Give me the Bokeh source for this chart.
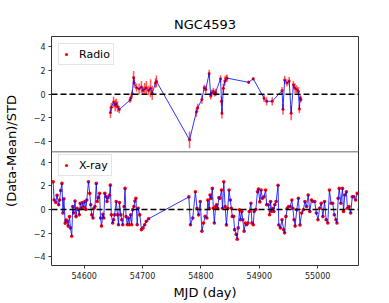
from bokeh.plotting import figure
from bokeh.models import (Range1d, FixedTicker, Span, Legend, LegendItem,
                          ColumnDataSource, CustomJSTickFormatter)
from bokeh.embed import file_html
from bokeh.resources import INLINE

# ---------------- data ----------------
radio_mjd = [54645.0, 54646.5, 54650.4, 54653.2, 54654.9, 54657.1, 54660.0, 54678.5, 54680.1, 54682.3,
             54684.7, 54685.7, 54689.7, 54694.1, 54698.1, 54700.8, 54703.7, 54706.5, 54710.4, 54713.7,
             54716.6, 54722.2, 54723.8, 54780.5, 54792.2, 54794.4, 54801.6, 54805.7, 54808.4, 54814.1,
             54816.8, 54818.5, 54821.3, 54823.5, 54825.2, 54833.6, 54835.3, 54836.0, 54838.5, 54841.0,
             54843.2, 54844.8, 54881.8, 54889.7, 54908.2, 54912.6, 54922.2, 54939.0, 54940.6, 54943.5,
             54947.4, 54951.2, 54954.6, 54958.5, 54961.3, 54964.2, 54967.0, 54968.7, 54970.0, 54971.4]
radio_val = [-1.55, -1.1, -0.67, -0.94, -0.78, -1.05, -1.3, -0.5, -0.3, 0.05,
             1.4, 0.95, 0.55, 0.45, 0.6, 0.3, 0.45, 0.55, 0.3, 0.5,
             0.1, 0.95, 1.08, -3.85, -1.5, -1.15, -0.45, 0.55, 0.4, 1.75,
             -0.15, 0.1, 0.25, 0.05, 0.15, 1.3, -0.6, -1.6, 0.5, 1.1,
             1.3, 1.35, 1.0, 1.3, -0.35, -0.6, -0.6, 0.3, -1.28, 1.2,
             0.95, 1.1, -1.6, 0.8, 0.5, 0.4, 0.25, -1.25, -0.3, -0.45]
radio_err = [0.45, 0.35, 0.45, 0.5, 0.4, 0.45, 0.3, 0.25, 0.3, 0.3,
             0.55, 0.4, 0.35, 0.45, 0.5, 0.35, 0.5, 0.55, 0.4, 0.75,
             0.6, 0.4, 0.5, 0.7, 0.4, 0.35, 0.35, 0.25, 0.3, 0.3,
             0.3, 0.3, 0.3, 0.25, 0.3, 0.3, 0.4, 0.45, 0.4, 0.4,
             0.3, 0.3, 0.15, 0.15, 0.3, 0.35, 0.35, 0.3, 0.45, 0.35,
             0.3, 0.35, 0.6, 0.3, 0.4, 0.35, 0.35, 0.35, 0.3, 0.25]

xray_mjd = [54546.8, 54548.5, 54551.3, 54553.5, 54556.3, 54558.0, 54559.7, 54561.9, 54563.6, 54565.3,
            54567.5, 54569.2, 54570.9, 54572.6, 54574.8, 54576.5, 54578.7, 54580.4, 54582.1, 54584.3,
            54586.0, 54587.7, 54589.9, 54591.6, 54593.3, 54595.5, 54597.2, 54598.9, 54601.1, 54602.8,
            54604.5, 54607.3, 54609.5, 54611.2, 54612.9, 54615.1, 54616.8, 54618.5, 54620.7, 54622.4,
            54624.1, 54626.4, 54628.0, 54629.7, 54632.0, 54633.6, 54635.3, 54637.6, 54639.2, 54640.9,
            54643.2, 54644.8, 54646.5, 54648.8, 54650.4, 54652.1, 54654.9, 54657.2, 54658.8, 54660.5,
            54662.8, 54664.4, 54666.1, 54668.4, 54670.0, 54671.7, 54674.0, 54675.7, 54677.3, 54679.6,
            54681.3, 54683.0, 54685.2, 54686.9, 54688.6, 54690.8, 54692.5, 54695.3, 54698.1, 54700.9,
            54703.7, 54706.5, 54710.4,
            54779.3, 54782.1, 54786.0, 54790.5, 54793.3, 54796.1, 54798.9, 54801.7, 54804.5,
            54807.3, 54810.1, 54811.8, 54814.0, 54815.7, 54817.4, 54819.6, 54821.3, 54823.0, 54825.2,
            54826.9, 54828.6, 54830.8, 54832.5, 54835.3, 54837.0, 54839.2, 54841.5, 54843.7, 54846.0,
            54848.2, 54850.4, 54852.1, 54853.8, 54856.0, 54857.7, 54860.5, 54862.2, 54863.9, 54866.1,
            54867.8, 54870.0, 54871.7, 54874.0, 54876.2, 54878.4, 54880.7, 54882.9, 54885.7, 54887.4,
            54889.7, 54891.3, 54894.1, 54896.9, 54898.6, 54900.9, 54903.1, 54905.3, 54908.1, 54910.9,
            54912.6, 54915.4, 54917.7, 54919.3, 54921.0, 54923.3, 54924.9, 54926.6, 54928.9, 54932.2,
            54933.4, 54936.2, 54939.0, 54941.8, 54943.4, 54945.7, 54948.0, 54950.2, 54953.0, 54955.8,
            54957.4, 54959.7, 54961.4, 54964.2, 54967.0, 54969.8, 54972.6, 54975.4, 54978.2, 54981.0,
            54983.8, 54986.6, 54989.4, 54992.2, 54995.0, 54997.8, 55000.6, 55003.4, 55006.2, 55009.0,
            55011.8, 55014.6, 55017.4, 55020.2, 55023.0, 55025.8, 55028.6, 55031.4, 55033.1, 55035.3,
            55037.0, 55039.8, 55042.6, 55044.3, 55046.5, 55049.3, 55051.0, 55053.8, 55056.6, 55059.4,
            55062.2, 55065.0, 55067.8]
xray_val = [2.33, 0.8, 0.6, 1.2, 0.4, 0.8, 1.6, 2.2, -0.3, 0.9,
            -1.15, -0.9, -1.0, -1.4, -0.6, -1.55, -2.25, 0.25, -0.3, 0.72,
            -0.6, 0.1, 0.0, -0.45, 0.53, 0.1, 0.58, 0.2, 0.67, 0.0,
            0.8, 2.33, 1.36, 0.4, -0.45, -0.72, 0.1, 0.25, 2.2, 0.67,
            1.0, 1.36, -0.72, -1.4, -0.4, -0.72, 1.36, 1.08, 0.67, 1.0,
            1.2, 2.05, -0.45, -1.14, -0.86, -0.45, 0.67, -0.45, -1.28, 0.58,
            -0.45, -0.86, -1.28, 0.25, 1.78, -0.6, -1.28, -0.72, -1.28, -0.45,
            -1.28, -0.03, 0.25, 0.72, 0.94, -1.28, 0.1, -0.45, -1.7, -1.55,
            -1.28, -1.0, -0.78,
            1.06, -1.28, -0.72, 1.5, 0.1, -0.45, 0.67, -1.83, -1.14,
            -0.58, -0.72, 0.8, 0.1, 1.22, 0.94, 1.78, 0.1, -1.14, 0.25,
            0.4, 0.1, 1.0, 0.94, 1.64, 0.1, 2.33, 0.25, -1.3, 0.1,
            1.64, 0.8, 0.1, -0.58, -0.58, -1.7, -2.1, -2.5, -1.55, -0.03,
            -0.86, -0.17, -0.86, -1.83, -1.14, -1.28, -1.14, -0.17, 0.53, -1.14,
            -1.28, -0.17, 0.0, 1.5, 1.72, 0.64, 1.64, 0.94, 1.08, 1.64,
            0.4, 0.4, -0.44, 0.67, -0.17, 0.1, -0.17, 0.4, 0.67, 2.05,
            -1.3, -1.55, -0.86, -1.7, -1.97, -0.58, 0.1, 0.25, 0.25, 0.8,
            0.1, -0.86, -1.4, -0.03, 0.94, -1.3, -0.3, -0.03, 0.67, 0.25,
            1.22, -0.17, 0.8, 0.67, 0.67, -0.3, -0.86, 0.1, 0.53, -0.6,
            0.67, -0.86, -1.14, 1.64, 0.53, 0.53, -0.44, -0.86, -1.14, 0.94,
            1.78, 0.53, 1.78, -0.17, 1.22, 1.5, 0.1, 0.25, -0.3, 1.08,
            1.08, 0.8, 1.36]

assert len(radio_mjd) == len(radio_val) == len(radio_err)
assert len(xray_mjd) == len(xray_val)

y_ticks = [-4, -2, 0, 2, 4]
x_ticks = [54600, 54700, 54800, 54900, 55000]

# ---------------- layout of the two stacked panels ----------------
X_START, X_END = 54544, 55070
HALF = 4.86          # each panel spans -HALF..HALF
BOTTOM_MIN = -4.72   # lower limit of the x-ray panel
OFFSET = 2 * HALF    # vertical shift of the radio panel
FONT = "DejaVu Sans"

p = figure(width=380, height=302, output_backend="svg", toolbar_location=None,
           x_range=Range1d(X_START, X_END),
           y_range=Range1d(BOTTOM_MIN, HALF + OFFSET),
           min_border_left=45, min_border_right=22, min_border_top=36, min_border_bottom=4,
           background_fill_color="white", border_fill_color="white")
p.extra_y_ranges = {"top": Range1d(BOTTOM_MIN - OFFSET, HALF)}

p.title.text = "NGC4593"
p.title.align = "center"
p.title.text_font = FONT
p.title.text_font_size = "13px"
p.title.text_font_style = "normal"
p.title.text_color = "black"

p.outline_line_color = "#333333"
p.outline_line_width = 1
p.xgrid.grid_line_color = None
p.ygrid.grid_line_color = None

# axes
xa = p.xaxis[0]
xa.ticker = FixedTicker(ticks=x_ticks)
xa.axis_label = "MJD (day)"
ya = p.yaxis[0]
ya.ticker = FixedTicker(ticks=y_ticks + [t + OFFSET for t in y_ticks])
ya.formatter = CustomJSTickFormatter(args=dict(off=OFFSET, half=HALF), code="""
    let v = tick > half ? tick - off : tick;
    v = Math.round(v);
    return v < 0 ? '\u2212' + String(-v) : String(v);
""")
ya.axis_label = "(Data-Mean)/STD"
for ax in (xa, ya):
    ax.axis_line_color = None
    ax.major_tick_out = 3
    ax.major_tick_in = 0
    ax.minor_tick_out = 0
    ax.minor_tick_in = 0
    ax.major_tick_line_color = "#333333"
    ax.major_label_text_font = FONT
    ax.major_label_text_font_size = "8px"
    ax.major_label_text_color = "#222222"
    ax.major_label_standoff = 3
    ax.axis_label_text_font = FONT
    ax.axis_label_text_font_size = "13px"
    ax.axis_label_text_font_style = "normal"
    ax.axis_label_text_color = "black"
xa.axis_label_standoff = 3
ya.axis_label_standoff = 12

# separator between panels and zero lines
p.add_layout(Span(location=HALF, dimension="width", line_color="#999999", line_width=1.5))
p.add_layout(Span(location=0, dimension="width", line_color="black", line_width=1.5,
                  line_dash="6 3"))
p.add_layout(Span(location=0, dimension="width", line_color="black", line_width=1.5,
                  line_dash="6 3", y_range_name="top"))

# radio panel
rsrc = ColumnDataSource(dict(
    mjd=radio_mjd, val=radio_val,
    lo=[v - e for v, e in zip(radio_val, radio_err)],
    hi=[v + e for v, e in zip(radio_val, radio_err)]))
p.segment(x0="mjd", y0="lo", x1="mjd", y1="hi", source=rsrc, y_range_name="top",
          line_color="red", line_alpha=0.65, line_width=1.5)
r_radio = p.scatter("mjd", "val", source=rsrc, y_range_name="top", size=3,
                    color="red", line_width=0)
p.line("mjd", "val", source=rsrc, y_range_name="top", line_color="blue",
       line_width=1, line_alpha=0.8)

# x-ray panel
xsrc = ColumnDataSource(dict(mjd=xray_mjd, val=xray_val))
r_xray = p.scatter("mjd", "val", source=xsrc, size=3.6, color="red", line_width=0)
p.line("mjd", "val", source=xsrc, line_color="blue", line_width=1, line_alpha=0.8)


def make_legend(label, rend, location):
    leg = Legend(items=[LegendItem(label=label, renderers=[rend])], location=location)
    leg.margin = 7
    leg.padding = 3
    leg.spacing = 0
    leg.label_text_font = FONT
    leg.label_text_font_size = "11px"
    leg.label_text_color = "black"
    leg.label_standoff = 9
    leg.label_height = 14
    leg.glyph_width = 8
    leg.glyph_height = 14
    leg.border_line_color = "#cccccc"
    leg.border_line_width = 1
    leg.background_fill_alpha = 0.8
    return leg


p.add_layout(make_legend("Radio", r_radio, "top_left"))
p.add_layout(make_legend("X-ray", r_xray, (7, 89)))

open("out.html", "w").write(file_html(p, INLINE))
